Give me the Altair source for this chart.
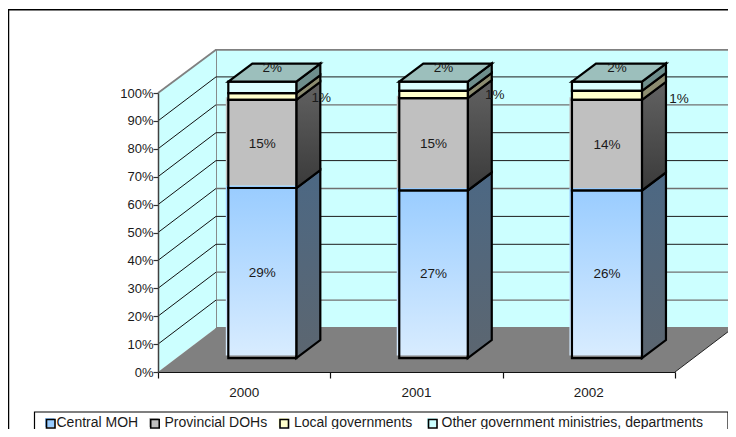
import altair as alt
import pandas as pd

# ---- values -------------------------------------------------------------
years = ["2000", "2001", "2002"]
series = ["Central MOH", "Provincial DOHs", "Local governments",
          "Other government ministries, departments"]
# share of each year's column (percent), read from the column heights
central = [61.5, 60.6, 60.6]
provincial = [31.9, 33.4, 32.8]
local = [2.4, 2.6, 3.2]
other = [4.2, 3.4, 3.4]
# printed labels
central_lbl = ["29%", "27%", "26%"]
provincial_lbl = ["15%", "15%", "14%"]
local_lbl = ["1%", "1%", "1%"]
other_lbl = ["2%", "2%", "2%"]
y_ticks = list(range(0, 101, 10))
x_ticks = [0, 1, 2, 3]

# ---- projection of the 3-D box onto the 2-D scales -----------------------
PX_X = 172.33          # pixels per category
PX_Y = 2.79            # pixels per percent
X0, Y0 = 158, 372      # pixel position of the origin
px_x = lambda p: (p - X0) / PX_X
px_y = lambda p: (Y0 - p) / PX_Y
WALL_DX, WALL_DY = 58 / PX_X, 44 / PX_Y
BAR_L = [0.408, 1.400, 2.402]
BAR_W = [0.3946, 0.3975, 0.4063]
BAR_DX, BAR_DY = 24 / PX_X, 18 / PX_Y
BAR_BASE = 5.0
BAR_K = 0.991

XS = alt.Scale(domain=[0, 3], nice=False, zero=False)
YS = alt.Scale(domain=[0, 100], nice=False, zero=False)
FONT = "Liberation Sans"
XA = alt.Axis(values=x_ticks, labels=False, ticks=True, tickSize=6,
              tickColor="#111111", domainColor="#111111",
              grid=False, zindex=1, domainWidth=1.2, tickWidth=1.2)
YA = alt.Axis(values=y_ticks, labelExpr="datum.value + '%'", grid=False,
              tickSize=5, tickColor="#333333", domainColor="#404040",
              domainWidth=1.5, tickWidth=1.2, zindex=1, labelFont=FONT,
              labelFontSize=13, labelColor="#1a1a1a", labelPadding=0)


def X(f="x"):
    return alt.X(f, type="quantitative", scale=XS, axis=XA, title=None)


def Y(f="y"):
    return alt.Y(f, type="quantitative", scale=YS, axis=YA, title=None)


def grad(c0, c1):
    return alt.Gradient(gradient="linear", x1=0, x2=0, y1=0, y2=1,
                        stops=[alt.GradientStop(color=c0, offset=0),
                               alt.GradientStop(color=c1, offset=1)])


def rect(rows, **mk):
    return alt.Chart(pd.DataFrame(rows)).mark_rect(**mk).encode(
        x=X("x"), x2=alt.X2("x2"), y=Y("y"), y2=alt.Y2("y2"))


def rule(rows, **mk):
    return alt.Chart(pd.DataFrame(rows)).mark_rule(**mk).encode(
        x=X("x"), x2=alt.X2("x2"), y=Y("y"), y2=alt.Y2("y2"))


def text(rows, **mk):
    args = dict(font=FONT, fontSize=13.5, color="#1a1a1a", baseline="middle")
    args.update(mk)
    return alt.Chart(pd.DataFrame(rows)).mark_text(**args).encode(
        x=X("x"), y=Y("y"), text="t:N")


def side(rows, **mk):
    return alt.Chart(pd.DataFrame(rows)).mark_area(**mk).encode(
        x=X("x"), y=Y("y"), y2=alt.Y2("y2"), detail="k:N")


def hface(rows, **mk):
    return alt.Chart(pd.DataFrame(rows)).mark_area(orient="horizontal", **mk).encode(
        y=Y("y"), x=X("x"), x2=alt.X2("x2"), detail="k:N")


layers = []

# page frame
layers.append(rect([dict(x=px_x(8.5), x2=px_x(760), y=px_y(9.8), y2=px_y(470))],
                   fill="white", stroke="black", strokeWidth=1.5))

# walls
WALL = "#CCFFFF"
WALL_EDGE = "#808080"
TOP = 99.7 + WALL_DY
layers.append(rect([dict(x=WALL_DX, x2=3 + WALL_DX, y=WALL_DY, y2=TOP)],
                   fill=WALL, stroke=WALL_EDGE, strokeWidth=1.8))
layers.append(side([dict(k=0, x=0, y=0, y2=100),
                    dict(k=0, x=WALL_DX, y=WALL_DY, y2=TOP)],
                   fill=WALL))
layers.append(rule([dict(x=0, x2=WALL_DX, y=100, y2=TOP)],
                   color=WALL_EDGE, strokeWidth=1.8))

# gridlines on the walls
back_grey = {10, 20, 50, 80}
grid_vals = [v for v in y_ticks if 0 < v < 100]
layers.append(rule([dict(x=0, x2=WALL_DX, y=v, y2=v + WALL_DY) for v in grid_vals],
                   color="#111111", strokeWidth=1))
layers.append(rule([dict(x=WALL_DX, x2=3 + WALL_DX, y=v + WALL_DY, y2=v + WALL_DY)
                    for v in grid_vals if v in back_grey],
                   color="#707070", strokeWidth=1.3))
layers.append(rule([dict(x=WALL_DX, x2=3 + WALL_DX, y=v + WALL_DY, y2=v + WALL_DY)
                    for v in grid_vals if v not in back_grey],
                   color="#1c1c1c", strokeWidth=1))

# floor
layers.append(hface([dict(k=0, y=0, x=0, x2=3),
                     dict(k=0, y=WALL_DY, x=WALL_DX, x2=3 + WALL_DX)], fill="#808080"))
layers.append(rule([dict(x=3, x2=3 + WALL_DX, y=0, y2=WALL_DY)],
                   color="#222222", strokeWidth=1))

# column geometry
stack = [central, provincial, local, other]
seg = []
for s, vals in enumerate(stack):
    seg.append([])
    for i, v in enumerate(vals):
        lo = sum(stack[q][i] for q in range(s))
        seg[s].append((BAR_BASE + lo * BAR_K, BAR_BASE + (lo + v) * BAR_K))

SIDE_FILLS = [grad("#4C6884", "#5C6670"), grad("#626262", "#3A3A3A"),
              "#8C8C70", "#6E8E8C"]
for s in range(4):
    rows = []
    for i in range(3):
        lo, hi = seg[s][i]
        xr = BAR_L[i] + BAR_W[i]
        rows += [dict(k=i, x=xr, y=lo, y2=hi),
                 dict(k=i, x=xr + BAR_DX, y=lo + BAR_DY, y2=hi + BAR_DY)]
    layers.append(side(rows, fill=SIDE_FILLS[s], stroke="black", strokeWidth=2.2))

# front fills, slightly out of register as in the original
OFF = 2.5
FRONT_FILLS = [grad("#99CCFF", "#D8ECFF"), "#C0C0C0", "#FFFFCC", "#DDFFFF"]
for s in range(4):
    rows = []
    for i in range(3):
        lo, hi = seg[s][i]
        d = OFF if s < 2 else 0
        rows.append(dict(x=BAR_L[i] - d / PX_X, x2=BAR_L[i] + BAR_W[i] - d / 5 / PX_X,
                         y=lo + d / PX_Y, y2=hi + d / PX_Y))
    layers.append(rect(rows, fill=FRONT_FILLS[s]))
for s in range(4):
    rows = []
    for i in range(3):
        lo, hi = seg[s][i]
        rows.append(dict(x=BAR_L[i], x2=BAR_L[i] + BAR_W[i], y=lo, y2=hi))
    layers.append(rect(rows, fill="transparent", stroke="black", strokeWidth=2.2))

# column tops
top_rows = []
for i in range(3):
    hi = seg[3][i][1]
    top_rows += [dict(k=i, y=hi, x=BAR_L[i], x2=BAR_L[i] + BAR_W[i]),
                 dict(k=i, y=hi + BAR_DY, x=BAR_L[i] + BAR_DX, x2=BAR_L[i] + BAR_W[i] + BAR_DX)]
layers.append(hface(top_rows, fill="#9CBFBC", stroke="black", strokeWidth=2.2))

# value labels
lab = []
for i in range(3):
    cx = BAR_L[i] + BAR_W[i] / 2
    lab.append(dict(x=cx, y=sum(seg[0][i]) / 2, t=central_lbl[i]))
    lab.append(dict(x=cx, y=sum(seg[1][i]) / 2, t=provincial_lbl[i]))
    hi = seg[3][i][1]
    lab.append(dict(x=cx + 10 / PX_X, y=hi + 5.0, t=other_lbl[i]))
local_dx = [1, 3, 13]
local_dy = [3, 3, 7]
for i in range(3):
    xr = BAR_L[i] + BAR_W[i] + BAR_DX
    ymid = seg[2][i][1] - 0.5 - local_dy[i] / PX_Y
    lab.append(dict(x=xr + local_dx[i] / PX_X, y=ymid, t=local_lbl[i]))
layers.append(text(lab))

# category labels
layers.append(text([dict(x=i + 0.5, y=px_y(392.5), t=years[i]) for i in range(3)],
                   align="center"))

# legend
layers.append(rect([dict(x=px_x(34.5), x2=px_x(728), y=px_y(412), y2=px_y(470))],
                   fill="white", stroke="black", strokeWidth=1.2))
leg_sw = [46.5, 150.7, 280, 428.5]
leg_tx = [56.5, 164.5, 294, 441.5]
LEG_FILL = ["#99CCFF", "#C0C0C0", "#FFFFCC", "#CCFFFF"]
for s in range(4):
    layers.append(rect([dict(x=px_x(leg_sw[s] - 1.5), x2=px_x(leg_sw[s] + 8),
                             y=px_y(427), y2=px_y(418))], fill=LEG_FILL[s]))
layers.append(rect([dict(x=px_x(a), x2=px_x(a + 8.5), y=px_y(428), y2=px_y(419.5))
                    for a in leg_sw],
                   fill="transparent", stroke="black", strokeWidth=1.6))
layers.append(text([dict(x=px_x(leg_tx[s]), y=px_y(423), t=series[s]) for s in range(4)],
                   align="left", fontSize=14))

chart = alt.layer(*layers).properties(
    width=517, height=279,
    padding={"left": 150, "top": 85, "right": 53, "bottom": 57},
    autosize=alt.AutoSizeParams(type="none"),
).configure_view(stroke=None).configure(background="white")

chart.save("out.html", embed_options={"renderer": "svg", "actions": False})
